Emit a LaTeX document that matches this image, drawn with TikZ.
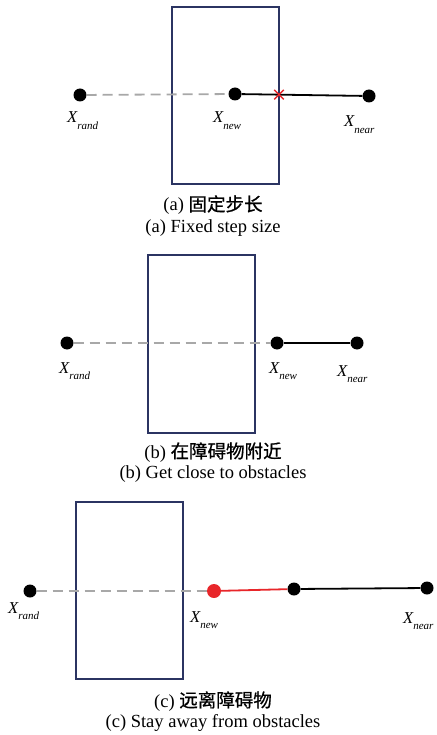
\documentclass[tikz,border=0pt]{standalone}
\usepackage{fontspec}
\setmainfont{Liberation Serif}
\newfontfamily\cjkfont[FakeBold=0.8]{Noto Sans CJK SC}
\usetikzlibrary{shapes.misc}
\definecolor{boxblue}{HTML}{2B3462}
\definecolor{dashgray}{HTML}{A8A8A8}
\definecolor{ptred}{HTML}{E8262A}
\newcommand{\subfnt}{\fontsize{11}{11}\selectfont}
\newcommand{\xlab}[1]{X\raisebox{-6.5pt}{\subfnt #1}}
\tikzset{
  obstacle/.style={draw=boxblue, line width=1.8pt},
  pt/.style={circle, fill=black, inner sep=0pt, minimum size=13pt},
  redpt/.style={circle, fill=ptred, inner sep=0pt, minimum size=14pt},
  dashline/.style={draw=dashgray, line width=1.8pt, dash pattern=on 10pt off 6pt},
  solidline/.style={draw=black, line width=1.8pt},
  redline/.style={draw=ptred, line width=1.8pt},
  lab/.style={anchor=base west, inner sep=0pt, font=\fontsize{16.6}{16.6}\selectfont\itshape},
  captext/.style={anchor=base, inner sep=0pt, font=\fontsize{18.5}{18.5}\selectfont},
  crossmark/.style={cross out, draw=ptred, line width=1.5pt, minimum size=8pt, inner sep=0pt}
}
\begin{document}
\begin{tikzpicture}[x=1pt,y=-1pt]
\useasboundingbox (0,0) rectangle (436,735);
% ---------------- (a)
\draw[obstacle] (172,7) rectangle (279,184);
\node[pt] (ar) at (80,95) {};
\node[pt] (an) at (235,94) {};
\node[pt] (ae) at (369,96) {};
\draw[dashline] (ar) -- (an);
\draw[solidline] (an) -- (ae);
\node[crossmark] (ax) at (279,94.6) {};
\node[lab] (arl) at (67,123) {\xlab{rand}};
\node[lab] (anl) at (213,123) {\xlab{new}};
\node[lab] (ael) at (344,127) {\xlab{near}};
\node[captext] (acz) at (213,211) {(a) {\cjkfont 固定步长}};
\node[captext] (acen) at (213,232) {(a) Fixed step size};
% ---------------- (b)
\draw[obstacle] (148,255) rectangle (255,433);
\node[pt] (br) at (67,343) {};
\node[pt] (bn) at (277,343) {};
\node[pt] (be) at (357,343) {};
\draw[dashline] (br) -- (bn);
\draw[solidline] (bn) -- (be);
\node[lab] (brl) at (59,373) {\xlab{rand}};
\node[lab] (bnl) at (269,373) {\xlab{new}};
\node[lab] (bel) at (337,376) {\xlab{near}};
\node[captext] (bcz) at (213,458) {(b) {\cjkfont 在障碍物附近}};
\node[captext] (bcen) at (213,478) {(b) Get close to obstacles};
% ---------------- (c)
\draw[obstacle] (76,502) rectangle (183,679);
\node[pt] (cr) at (30,591) {};
\node[redpt] (cn) at (214,591) {};
\node[pt] (cm) at (294,589) {};
\node[pt] (ce) at (427,588) {};
\draw[dashline] (cr) -- (cn);
\draw[redline] (cn) -- (cm);
\draw[solidline] (cm) -- (ce);
\node[lab] (crl) at (8,613) {\xlab{rand}};
\node[lab] (cnl) at (190,622) {\xlab{new}};
\node[lab] (cel) at (403,623) {\xlab{near}};
\node[captext] (ccz) at (213,707) {(c) {\cjkfont 远离障碍物}};
\node[captext] (ccen) at (213,727) {(c) Stay away from obstacles};
\end{tikzpicture}
\end{document}
